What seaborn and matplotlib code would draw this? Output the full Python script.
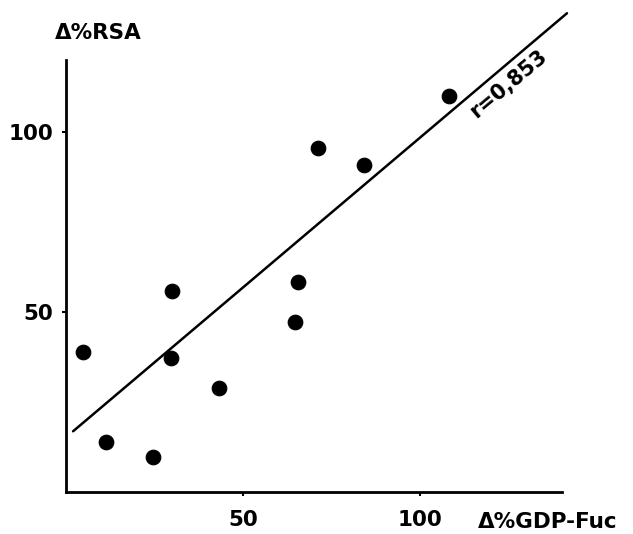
import numpy as np
import matplotlib
matplotlib.use("Agg")
import matplotlib.pyplot as plt
import seaborn as sns
import pandas as pd

# data
gdp_fuc = [4.8, 11.3, 24.6, 29.5, 30.0, 43.1, 64.6, 65.4, 71.1, 84.1, 108.2]
rsa = [38.8, 13.9, 9.7, 37.1, 55.7, 28.8, 47.1, 58.2, 95.6, 90.9, 110.0]
line_x = [2.0, 141.4]
line_slope = 0.833
line_intercept = 15.2
r_label = "r=0,853"
x_ticks = [50, 100]
y_ticks = [50, 100]

sns.set_theme(style="white")
plt.rcParams['font.family'] = ['DejaVu Sans']
plt.rcParams['font.weight'] = 'bold'

df = pd.DataFrame({"x": gdp_fuc, "y": rsa})
fit = pd.DataFrame({"x": line_x,
                    "y": [line_intercept + line_slope * v for v in line_x]})

fig = plt.figure(figsize=(6.33, 5.34), dpi=100)
ax = fig.add_axes([66 / 633, 1 - 492 / 534, 496 / 633, 432 / 534])

sns.scatterplot(data=df, x="x", y="y", ax=ax, color="black", s=110,
                edgecolor="black", zorder=3, clip_on=False)
sns.lineplot(data=fit, x="x", y="y", ax=ax, color="black", linewidth=1.8)
for l in ax.get_lines():
    l.set_clip_on(False)

ax.set_xlim(0, 140)
ax.set_ylim(0, 120)
ax.set_xticks(x_ticks)
ax.set_yticks(y_ticks)
ax.set_xlabel("")
ax.set_ylabel("")
sns.despine(ax=ax)
for s in ["left", "bottom"]:
    ax.spines[s].set_color("black")
    ax.spines[s].set_linewidth(2)
ax.tick_params(axis="x", direction="out", length=3, width=1.5, pad=10,
               labelsize=15.5, colors="black", bottom=True)
ax.tick_params(axis="y", direction="out", length=3, width=1.5, pad=6,
               labelsize=15.5, colors="black", left=True)

fig.text(55 / 633, 1 - 33 / 534, "Δ%RSA", fontsize=15.5, ha="left",
         va="center", color="black")
fig.text(478 / 633, 1 - 522 / 534, "Δ%GDP-Fuc", fontsize=15.5, ha="left",
         va="center", color="black")
fig.text(508 / 633, 1 - 84 / 534, r_label, fontsize=15, rotation=40,
         ha="center", va="center", color="black")

fig.savefig("out.png", dpi=100)
